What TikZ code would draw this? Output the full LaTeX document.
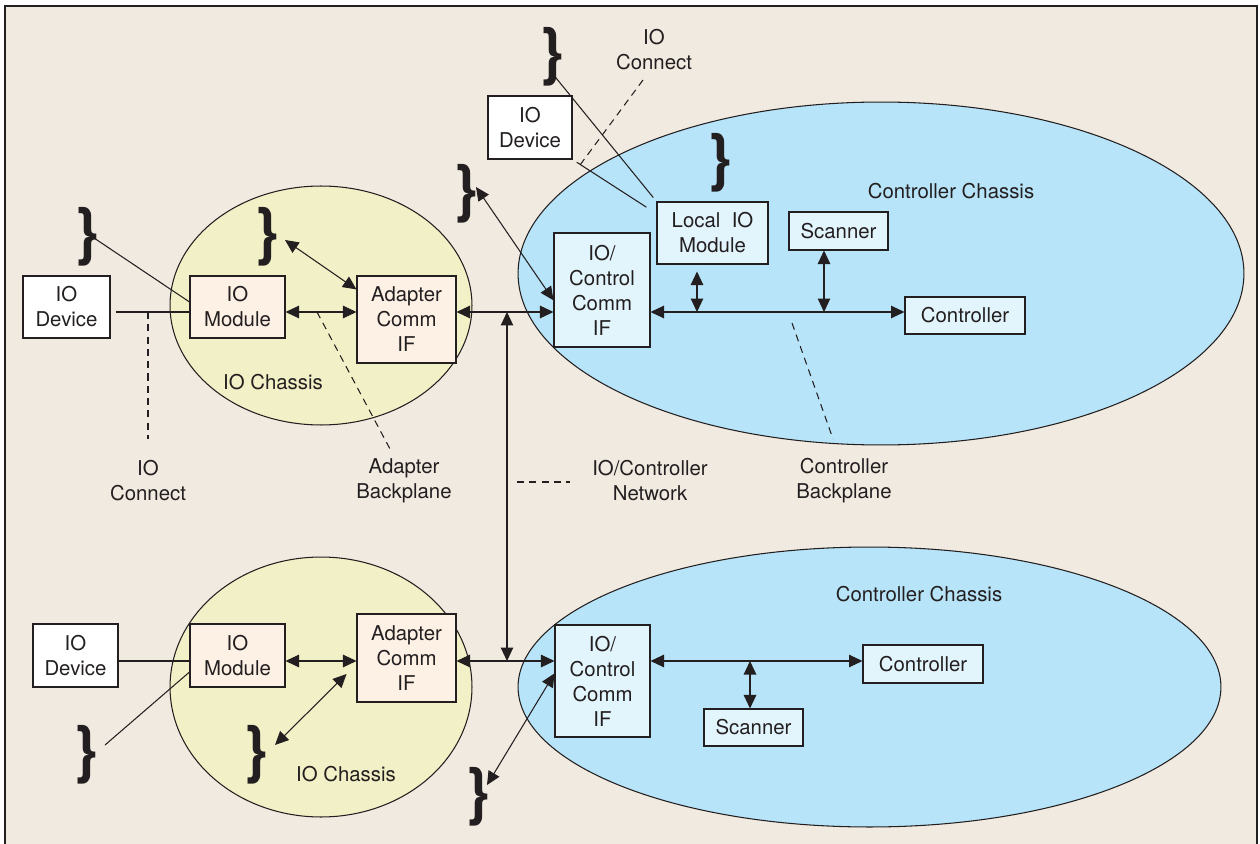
\documentclass[tikz,border=0pt]{standalone}
\usepackage{fontspec}
\setmainfont{TeX Gyre Heros}
\usepackage{tikz}
\usetikzlibrary{arrows.meta}
\definecolor{paper}{HTML}{F1EAE0}
\definecolor{ink}{HTML}{231F20}
\definecolor{yel}{HTML}{F2F0C6}
\definecolor{sky}{HTML}{B7E4F8}
\definecolor{peach}{HTML}{FDF0E4}
\definecolor{pale}{HTML}{E2F4FC}

\begin{document}
\begin{tikzpicture}[x=0.02cm,y=-0.02cm,line width=0.6pt,color=ink,
	font=\fontsize{11.6}{14.2}\selectfont,
	box/.style={draw=ink,rectangle,inner sep=0pt,align=center},
	dev/.style={box,fill=white},
	io/.style={box,fill=peach},
	ctl/.style={box,fill=pale},
	arr/.style={{Triangle[length=2.7mm,width=2.5mm]}-{Triangle[length=2.7mm,width=2.5mm]}},
	dsh/.style={dash pattern=on 4pt off 3pt},
	brc/.style={anchor=north west,inner sep=0pt,font=\bfseries\fontsize{36}{36}\selectfont},
	lbl/.style={align=center}]
	\useasboundingbox (0,0) rectangle (1260,844);
	\fill[white] (0,0) rectangle (1260,844);
	\fill[paper] (5,6) rectangle (1257,844);
	\draw (5,844) -- (5,6) -- (1257,6) -- (1257,844);

	\draw[fill=yel] (321,305.5) ellipse [x radius=3.02cm, y radius=2.39cm];
	\draw[fill=yel] (321,687) ellipse [x radius=3.02cm, y radius=2.6cm];
	\draw[fill=sky] (881,273.5) ellipse [x radius=7.26cm, y radius=3.43cm];
	\draw[fill=sky] (869.5,687) ellipse [x radius=7.03cm, y radius=2.8cm];

	\foreach \bx/\by [count=\i] in {77/207,257/207,456/164,542/27,710/133,76/725,246/725,468/767}
		\node[brc] (br\i) at (\bx-3,\by) {\}};

	\node[lbl] (ch1) at (273,382) {IO Chassis};
	\node[lbl] (ch2) at (346,774) {IO Chassis};
	\node[lbl] (cc1) at (951,191) {Controller Chassis};
	\node[lbl] (cc2) at (919,594) {Controller Chassis};
	\node[lbl] (ioc1) at (148,481) {IO\\Connect};
	\node[lbl] (abp) at (404,481) {Adapter\\Backplane};
	\node[lbl] (net) at (650,481) {IO/Controller\\Network};
	\node[lbl] (cbp) at (844,481) {Controller\\Backplane};
	\node[lbl] (ioc2) at (654,50) {IO\\Connect};

	\node[dev,minimum width=1.74cm,minimum height=1.24cm] (dev1) at (66.5,307) {IO\\Device};
	\node[io,minimum width=1.9cm,minimum height=1.24cm] (mod1) at (237.5,307) {IO\\Module};
	\node[io,minimum width=1.98cm,minimum height=1.74cm] (ada1) at (406.5,319.5) {Adapter\\Comm\\IF};
	\node[ctl,minimum width=1.92cm,minimum height=2.28cm] (cif1) at (602,290) {IO/\\Control\\Comm\\IF};
	\node[ctl,minimum width=2.22cm,minimum height=1.24cm] (loc) at (712.5,233) {Local~~IO\\Module};
	\node[ctl,minimum width=1.98cm,minimum height=0.76cm] (scn1) at (838.5,231) {Scanner};
	\node[ctl,minimum width=2.4cm,minimum height=0.74cm] (ctl1) at (965,315.5) {Controller};
	\node[dev,minimum width=1.68cm,minimum height=1.26cm] (dev3) at (530,127.5) {IO\\Device};

	\node[dev,minimum width=1.7cm,minimum height=1.26cm] (dev2) at (75.5,655.5) {IO\\Device};
	\node[io,minimum width=1.9cm,minimum height=1.26cm] (mod2) at (237.5,655.5) {IO\\Module};
	\node[io,minimum width=1.98cm,minimum height=1.76cm] (ada2) at (406.5,658) {Adapter\\Comm\\IF};
	\node[ctl,minimum width=1.9cm,minimum height=2.24cm] (cif2) at (602.5,681) {IO/\\Control\\Comm\\IF};
	\node[ctl,minimum width=2.4cm,minimum height=0.76cm] (ctl2) at (923,664) {Controller};
	\node[ctl,minimum width=1.98cm,minimum height=0.74cm] (scn2) at (753.5,727.5) {Scanner};

	\coordinate (net1) at (507,312);
	\coordinate (net2) at (507,661);
	\coordinate (lb) at (697,312);
	\coordinate (sb1) at (824,312);
	\coordinate (sb2) at (750,661);
	\coordinate (b1) at (94,238);
	\coordinate (b2) at (285,240);
	\coordinate (b3) at (476,187);
	\coordinate (b4) at (552,73);
	\coordinate (b6) at (105,745);
	\coordinate (b7) at (275,745);
	\coordinate (b8) at (487,785);

	\draw[dsh] (148,312) -- (148,439);
	\draw[dsh] (317,312) -- (390,449);
	\draw[dsh] (792,323) -- (833,439);
	\draw[dsh] (643,80) -- (580,165);
	\draw[dsh] (517,482) -- (570,482);

	\path
	(dev1.east |- net1) edge[shorten <=0.1cm] (mod1.west |- net1)
	(b1) edge (mod1.174)
	(b4) edge[shorten >=0.1cm] (loc.north west)
	(dev3.south east) edge[shorten <=0.1cm, shorten >=0.24cm] (loc.161)
	(dev2.east |- net2) edge (mod2.west |- net2)
	(mod2.199) edge (b6)
	;

	\path[arr]
	(mod1.east |- net1) edge (ada1.west |- net1)
	(ada1.east |- net1) edge (cif1.west |- net1)
	(cif1.east |- net1) edge (ctl1.west |- net1)
	(lb) edge[shorten >=0.14cm] (lb |- loc.south)
	(sb1) edge (sb1 |- scn1.south)
	(b2) edge (ada1.149)
	(b3) edge (cif1.192)
	(net1) edge (net2)
	(mod2.east |- net2) edge (ada2.west |- net2)
	(ada2.east |- net2) edge (cif2.west |- net2)
	(cif2.east |- net2) edge (ctl2.west |- net2)
	(sb2) edge (sb2 |- scn2.north)
	(b7) edge[shorten >=0.28cm] (ada2.187)
	(b8) edge (cif2.171)
	;
\end{tikzpicture}
\end{document}
